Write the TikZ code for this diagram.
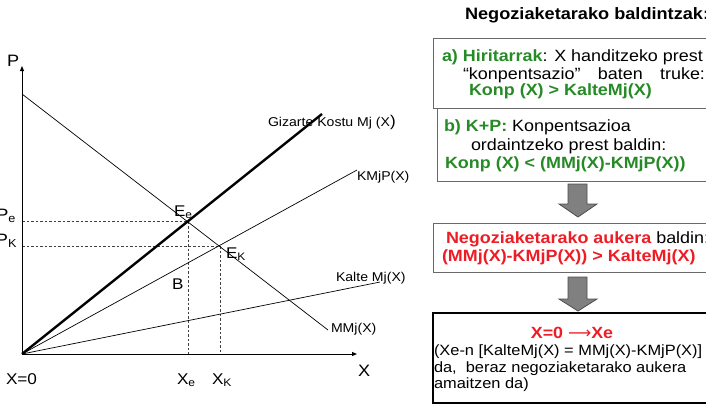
\documentclass[tikz,border=0pt]{standalone}
\usepackage{fontspec}
\setmainfont{Liberation Sans}[FakeStretch=1.1]
\newfontfamily\arrfont{DejaVu Sans}
\usetikzlibrary{arrows.meta}
\definecolor{kgreen}{RGB}{38,138,38}
\definecolor{kred}{RGB}{238,28,36}
\definecolor{bordgray}{RGB}{105,105,105}
\definecolor{arrgray}{RGB}{128,128,128}
\newcommand{\kgr}[1]{\textcolor{kgreen}{\bfseries #1}}
\newcommand{\kred}[1]{\textcolor{kred}{\bfseries #1}}
\newcommand{\szB}{\fontsize{16.3}{19}\selectfont}
\newcommand{\szL}{\fontsize{12.8}{15}\selectfont}
\newcommand{\szM}{\fontsize{16.2}{19}\selectfont}
\newcommand{\szD}{\fontsize{14.9}{17}\selectfont}
\begin{document}
\begin{tikzpicture}[x=1pt,y=-1pt,
  txt/.style={inner sep=0pt,outer sep=0pt,anchor=base west},
  thinline/.style={line width=0.7pt,black},
  thickline/.style={line width=2.4pt,black},
  axisline/.style={line width=1pt,black,-{Triangle[length=5pt,width=4pt]}},
  guide/.style={line width=0.6pt,black!75,dash pattern=on 2.5pt off 2pt},
  graybox/.style={draw=bordgray,line width=0.9pt,inner sep=0pt,outer sep=0pt},
  blackbox/.style={draw=black,line width=1.3pt,inner sep=0pt,outer sep=0pt},
  blockarrow/.style={fill=arrgray,draw=black!70,line width=0.8pt}]
\useasboundingbox (0,0) rectangle (706,405);
\clip (0,0) rectangle (706,405);

% ---------- chart ----------
\coordinate (O) at (22,354);
\coordinate (Ytop) at (22,66);
\coordinate (Xend) at (357,354);
\coordinate (Mtop) at (22,94);
\coordinate (Mend) at (328,330);
\coordinate (Gend) at (322,114);
\coordinate (Kend) at (357,170);
\coordinate (Lend) at (380,282);
\coordinate (Ee) at (188,221);
\coordinate (Ek) at (220,246);
\coordinate (Pe) at (22,221);
\coordinate (Pk) at (22,246);
\coordinate (Xe) at (188,354);
\coordinate (Xk) at (220,354);

\node[txt] (lblP) at (7,66) {\fontsize{16.5}{19}\selectfont P};
\node[txt,anchor=base east] (lblPe) at (16,220) {\fontsize{16.5}{19}\selectfont P\textsubscript{e}};
\node[txt,anchor=base east] (lblPk) at (17,245) {\fontsize{16.5}{19}\selectfont P\textsubscript{K}};
\node[txt] (lblEe) at (174,216) {\fontsize{15.5}{19}\selectfont E\textsubscript{e}};
\node[txt] (lblEk) at (226,258) {\fontsize{15.5}{19}\selectfont E\textsubscript{K}};
\node[txt] (lblB) at (172,289) {\fontsize{15.5}{19}\selectfont B};
\node[txt] (lblX0) at (6,384) {\fontsize{15.6}{19}\selectfont X=0};
\node[txt] (lblXe) at (177,384) {\fontsize{15.6}{19}\selectfont X\textsubscript{e}};
\node[txt] (lblXk) at (212,384) {\fontsize{15.6}{19}\selectfont X\textsubscript{K}};
\node[txt] (lblX) at (358,376) {\fontsize{16.5}{19}\selectfont X};
\node[txt] (lblG) at (268,126) {\szL Gizarte Kostu Mj (X\fontsize{15.5}{15}\selectfont)};
\node[txt] (lblK) at (357,180) {\szL KMjP(X)};
\node[txt] (lblL) at (336,281) {\szL Kalte Mj(X)};
\node[txt] (lblM) at (331,332) {\szL MMj(X)};

\draw[guide] (Pe) -- (Ee) -- (Xe);
\draw[guide] (Pk) -- (Ek) -- (Xk);
\draw[thinline] (Mtop) -- (Mend);
\draw[thinline] (O) -- (Kend);
\draw[thinline] (O) -- (Lend);
\draw[thickline] (O) -- (Gend);
\draw[axisline] (O) -- (Ytop);
\draw[axisline] (O) -- (Xend);

% ---------- right panel ----------
\node[txt] (title) at (465,19) {\fontsize{16.5}{19}\selectfont\bfseries Negoziaketarako baldintzak:};

\node[graybox,minimum width=285pt,minimum height=70pt] (boxa) at (575.5,73) {};
\node[graybox,minimum width=281pt,minimum height=73pt] (boxb) at (577.5,144.5) {};
\node[graybox,minimum width=285pt,minimum height=49pt] (boxc) at (575.5,247.5) {};
\node[blackbox,minimum width=285pt,minimum height=90pt] (boxd) at (575.5,358) {};

\node[txt] (a1) at (442,61) {\szB\kgr{a) Hiritarrak}: X handitzeko prest};
\node[txt] (a2) at (463,79) {\szB\makebox[242pt][l]{“konpentsazio”\hfill baten\hfill truke:}};
\node[txt] (a3) at (469,95) {\szB\kgr{Konp (X) > KalteMj(X)}};

\node[txt] (b1) at (444,131) {\szB\kgr{b) K+P:} Konpentsazioa};
\node[txt] (b2) at (471,150) {\szB ordaintzeko prest baldin:};
\node[txt] (b3) at (445,168) {\szB\kgr{Konp (X) < (MMj(X)-KMjP(X))}};

\node[txt] (c1) at (446,243) {\szB\kred{Negoziaketarako aukera} baldin:};
\node[txt] (c2) at (442,261) {\szB\kred{(MMj(X)-KMjP(X)) > KalteMj(X)}};

\node[txt,anchor=base] (d1) at (572,338) {\szM\kred{X=0 {\arrfont\mdseries ⟶}Xe}};
\node[txt] (d2) at (434,355) {\szD (Xe-n [KalteMj(X) = MMj(X)-KMjP(X)]};
\node[txt] (d3) at (434,372) {\szD da,\ \ beraz negoziaketarako aukera};
\node[txt] (d4) at (434,388) {\szD amaitzen da)};

% block arrows
\draw[blockarrow] (568,184) -- (587,184) -- (587,204) -- (597,204) -- (578,217) -- (559,204) -- (568,204) -- cycle;
\draw[blockarrow] (568,277) -- (587,277) -- (587,299) -- (597,299) -- (578,311) -- (559,299) -- (568,299) -- cycle;
\end{tikzpicture}
\end{document}
